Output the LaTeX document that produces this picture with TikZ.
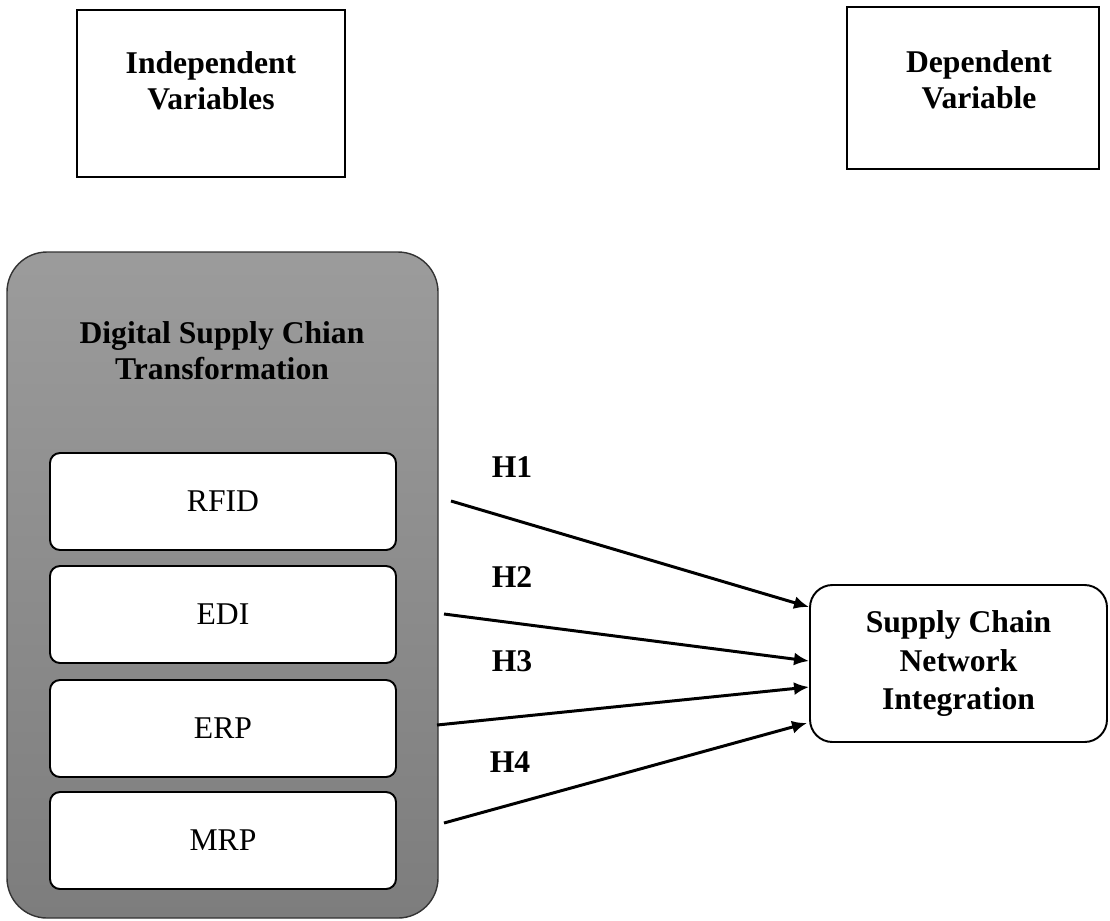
\documentclass[tikz,border=0pt]{standalone}
\usepackage{fontspec}
\setmainfont{Liberation Serif}
\usetikzlibrary{arrows.meta}
\definecolor{shadetop}{gray}{0.61}
\definecolor{shadebot}{gray}{0.49}
\tikzset{
  hdrbox/.style={draw, line width=1.1pt, rectangle, inner sep=0pt},
  hdrtxt/.style={font=\bfseries\fontsize{18}{20.5}\selectfont, align=center, inner sep=0pt},
  groupbox/.style={draw=black!80, line width=0.8pt, rounded corners=8mm,
                   top color=shadetop, bottom color=shadebot},
  itembox/.style={draw, fill=white, line width=1.1pt, rounded corners=2mm,
                  minimum width=346*0.2mm, minimum height=97*0.2mm,
                  font=\fontsize{18}{21}\selectfont},
  hyp/.style={-{Latex[length=3mm,width=2.6mm]}, line width=1.7pt},
  hyplabel/.style={font=\bfseries\fontsize{18}{21}\selectfont, inner sep=0pt}
}
\begin{document}
\begin{tikzpicture}[x=0.2mm,y=-0.2mm]
\useasboundingbox (0,0) rectangle (1110,920);
% header boxes
\node (indep) [hdrbox, minimum width=268*0.2mm, minimum height=167*0.2mm] at (211,93.5) {};
\node (indeptxt) [hdrtxt] at (211,81) {Independent\\Variables};
\node (dep) [hdrbox, minimum width=252*0.2mm, minimum height=162*0.2mm] at (973,88) {};
\node (deptxt) [hdrtxt] at (979,80) {Dependent\\Variable};
% digital supply chain group
\node (dsct) [groupbox, minimum width=431*0.2mm, minimum height=666*0.2mm] at (222.5,585) {};
\node (dscttitle) [hdrtxt] at (222,351) {Digital Supply Chian\\Transformation};
\foreach \name/\txt/\y in {rfid/RFID/501.5, edi/EDI/614.5, erp/ERP/728.5, mrp/MRP/840.5}
    \node (\name) [itembox] at (223,\y) {\txt};
% outcome
\node (scn) [hdrtxt, font=\bfseries\fontsize{18}{22}\selectfont, draw, line width=1.1pt,
             rounded corners=4.5mm, minimum width=297*0.2mm, minimum height=157*0.2mm]
    at (958.5,663.5) {Supply Chain\\Network\\Integration};
% hypotheses
\coordinate (h1s) at (451,501);
\coordinate (h2s) at (444,614);
\coordinate (h3s) at (437,725);
\coordinate (h4s) at (444,823);
\draw[hyp] (h1s) -- ([yshift=11.3mm]scn.west);
\draw[hyp] (h2s) -- ([yshift=0.5mm]scn.west);
\draw[hyp] (h3s) -- ([yshift=-4.7mm]scn.west);
\draw[hyp] (h4s) -- ([yshift=-11.9mm,xshift=-0.4mm]scn.west);
\node (h1) [hyplabel] at (512,467) {H1};
\node (h2) [hyplabel] at (512,577) {H2};
\node (h3) [hyplabel] at (512,661) {H3};
\node (h4) [hyplabel] at (510,762) {H4};
\end{tikzpicture}
\end{document}
